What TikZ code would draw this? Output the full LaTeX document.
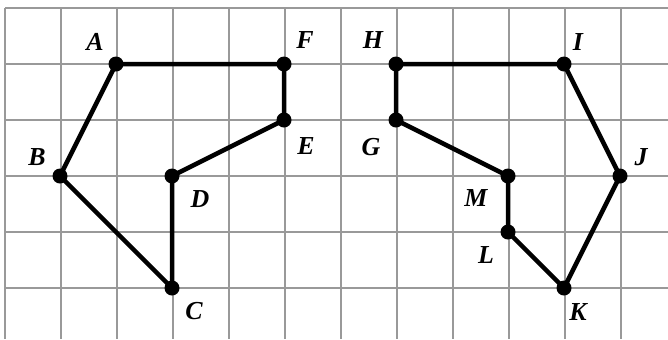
\documentclass[tikz,border=0pt]{standalone}
\usepackage{fontspec}
\setmainfont{Liberation Serif}
\begin{document}
\begin{tikzpicture}[x=1bp,y=-1bp,
  gridline/.style={draw=black!40,line width=1.8bp},
  seg/.style={draw=black,line width=4.5bp,line join=round,line cap=round},
  pt/.style={circle,fill=black,inner sep=0pt,minimum size=15bp},
  lab/.style={font=\fontsize{26}{26}\selectfont\bfseries\itshape,inner sep=0pt}]
\useasboundingbox (0,0) rectangle (668,339);
\fill[white] (0,0) rectangle (668,339);
\foreach \i in {0,...,11} \draw[gridline] (5+56*\i,8) -- (5+56*\i,339);
\foreach \j in {0,...,5} \draw[gridline] (5,8+56*\j) -- (668,8+56*\j);
% left figure
\node[pt] (A) at (116,64) {};
\node[pt] (F) at (284,64) {};
\node[pt] (E) at (284,120) {};
\node[pt] (D) at (172,176) {};
\node[pt] (C) at (172,288) {};
\node[pt] (B) at (60,176) {};
% right figure
\node[pt] (H) at (396,64) {};
\node[pt] (I) at (564,64) {};
\node[pt] (J) at (620,176) {};
\node[pt] (K) at (564,288) {};
\node[pt] (L) at (508,232) {};
\node[pt] (M) at (508,176) {};
\node[pt] (G) at (396,120) {};
\draw[seg] (A.center) -- (F.center) -- (E.center) -- (D.center) -- (C.center) -- (B.center) -- (A.center);
\draw[seg] (H.center) -- (I.center) -- (J.center) -- (K.center) -- (L.center) -- (M.center) -- (G.center) -- (H.center);
\node[lab] (tA) at (95,42) {A};
\node[lab] (tF) at (305,40) {F};
\node[lab] (tE) at (306,146) {E};
\node[lab] (tD) at (200,199) {D};
\node[lab] (tC) at (194,311) {C};
\node[lab] (tB) at (37,157) {B};
\node[lab] (tH) at (373,40) {H};
\node[lab] (tI) at (578,42) {I};
\node[lab] (tJ) at (641,157) {J};
\node[lab] (tK) at (578,312) {K};
\node[lab] (tL) at (486,255) {L};
\node[lab] (tM) at (476,198) {M};
\node[lab] (tG) at (371,147) {G};
\end{tikzpicture}
\end{document}
